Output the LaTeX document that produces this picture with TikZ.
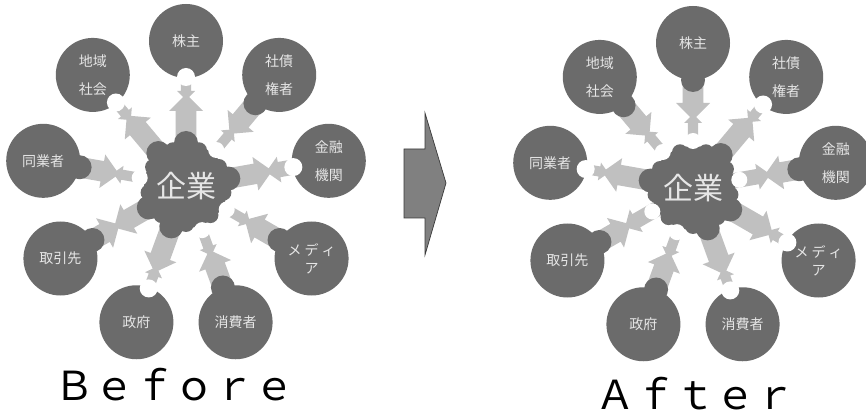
\documentclass[tikz,border=0pt]{standalone}
\usepackage{fontspec}
\newfontfamily\jpfont{Noto Sans CJK JP}
\usetikzlibrary{calc}
\definecolor{disc}{HTML}{6B6B6B}
\definecolor{flow}{HTML}{C0C0C0}
\definecolor{ink}{HTML}{E6E6E6}
\definecolor{turnfill}{HTML}{808080}
\definecolor{turnline}{HTML}{3A3A3A}

\tikzset{
  disc node/.style={circle, fill=disc, minimum size=74pt, inner sep=0pt,
    text=ink, align=center, font=\jpfont\fontsize{14}{28}\selectfont},
  hub text/.style={text=ink, inner sep=0pt, font=\jpfont\fontsize{30}{30}\selectfont},
  caption/.style={anchor=base, text=black, inner sep=0pt,
    font=\jpfont\fontsize{40}{40}\selectfont}
}

% block arrow along a ray: #1 origin, #2 direction, #3 start, #4 tip, #5 size (1..3)
\newcommand{\flowarrow}[5]{%
  \pgfmathsetmacro\fw{2.5+2.6*(#5)}%
  \pgfmathsetmacro\fh{5+4*(#5)}%
  \pgfmathsetmacro\fb{(#4)-(5+4*(#5))}%
  \begin{scope}[shift={#1},rotate=#2]
    \fill[flow] (#3,-\fw) -- (\fb,-\fw) -- (\fb,-\fh) -- (#4,0)
      -- (\fb,\fh) -- (\fb,\fw) -- (#3,\fw) -- cycle;
  \end{scope}}

% company hub: #1 prefix, #2 x, #3 y, #4 list angle/label/outward size/inward size
\newcommand{\hub}[4]{%
  \foreach \va/\vt/\vo/\vi in {#4} {
    \pgfmathsetmacro\dm{80+4.5*(\vo-\vi)}
    \flowarrow{(#2,#3)}{\va}{28}{\dm+3}{\vo}
    \flowarrow{($(#2,#3)+(\va:145pt)$)}{\va+180}{30}{145-\dm+3}{\vi}
  }
  \foreach \va/\vt/\vo/\vi in {#4} {
    \ifnum\vi>2 \fill[disc] ($(#2,#3)+(\va:108pt)$) circle (12pt); \fi
  }
  \foreach \va/\vt/\vo/\vi [count=\vk] in {#4} {
    \node[disc node] (#1\vk) at ($(#2,#3)+(\va:145pt)$) {\vt};
  }
  \foreach \va/\vt/\vo/\vi in {#4} {
    \ifnum\vi<3 \fill[white] ($(#2,#3)+(\va:109pt)$) circle (9pt); \fi
  }
  \fill[disc] (#2,#3) circle (42pt);
  \foreach \va/\vt/\vo/\vi in {#4} {
    \ifnum\vo>2 \fill[disc] ($(#2,#3)+(\va:43pt)$) circle (12pt); \fi
    \fill[disc] ($(#2,#3)+(\va+20:38pt)$) circle (8pt);
  }
  \foreach \va/\vt/\vo/\vi in {#4} {
    \ifnum\vo<3 \fill[white] ($(#2,#3)+(\va:47pt)$) circle (8pt); \fi
  }
  \node[hub text] (#1c) at (#2,#3) {企業};
}

\begin{document}
\begin{tikzpicture}[x=1pt,y=1pt]
  \fill[white] (0,0) rectangle (866,415);
  \useasboundingbox (0,0) rectangle (866,415);

  \hub{b}{186}{229}{90/株主/3/1, 50/{社債\\権者}/1/3, 10/{金融\\機関}/3/2,
    -30/{メ\hspace{3pt}デ\hspace{3pt}ィ\\[-10pt]ア}/1/3, -70/消費者/1/3,
    -110/政府/3/1, -150/取引先/3/3, 170/同業者/1/3, 130/{地域\\社会}/3/1}

  \hub{a}{693}{227}{90/株主/1/3, 50/{社債\\権者}/3/1, 10/{金融\\機関}/2/3,
    -30/{メ\hspace{3pt}デ\hspace{3pt}ィ\\[-10pt]ア}/3/1, -70/消費者/3/1,
    -110/政府/1/3, -150/取引先/2/3, 170/同業者/3/1, 130/{地域\\社会}/1/3}

  % transition arrow between the two states
  \draw[fill=turnfill, draw=turnline, line width=0.7pt, line join=miter]
    (404,266) -- (425,266) -- (425,302) -- (446,232) -- (425,160)
    -- (425,197) -- (404,197) -- cycle;

  \node[caption] (before) at (174,15) {Ｂｅｆｏｒｅ};
  \node[caption] (after) at (695,6) {Ａｆｔｅｒ};
\end{tikzpicture}
\end{document}
